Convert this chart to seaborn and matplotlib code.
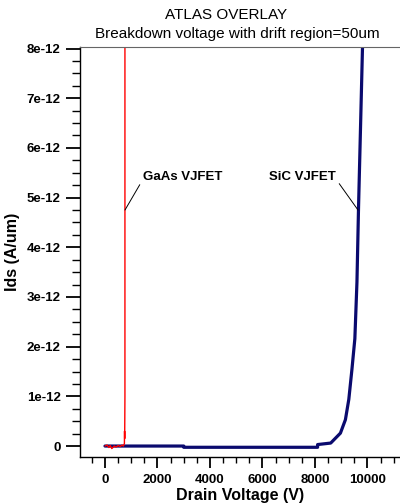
import numpy as np
import matplotlib
matplotlib.use("Agg")
import matplotlib.pyplot as plt
import seaborn as sns
from matplotlib.ticker import MultipleLocator, FixedLocator, FixedFormatter

# drain voltage (V) / drain current (A/um)
sic_v = [0, 700, 3000, 3000, 8100, 8100, 8600, 8970, 9160, 9290, 9410, 9520, 9600, 9660, 9740, 9810, 9860]
sic_i = [0.0, 0.0, 0.0, -0.025, -0.025, 0.03, 0.06, 0.26, 0.53, 0.94, 1.55, 2.16, 3.3, 4.8, 6.5, 8.0, 9.0]

gaas_v = [0, 80, 150, 200, 260, 300, 350, 420, 500, 580, 650, 700, 740, 745, 750, 755, 760, 760]
gaas_i = [0.0, 0.02, -0.03, 0.01, -0.05, -0.03, 0.0, -0.02, 0.01, -0.01, 0.02, 0.0, 0.05, 0.3, 0.15, 0.55, 1.0, 9.0]

ytick_vals = [0, 1, 2, 3, 4, 5, 6, 7, 8]
ytick_labels = ["0", "1e-12", "2e-12", "3e-12", "4e-12", "5e-12", "6e-12", "7e-12", "8e-12"]
xtick_vals = [0, 2000, 4000, 6000, 8000, 10000]

scale = 1e-12
sic_i = [v * scale for v in sic_i]
gaas_i = [v * scale for v in gaas_i]

sns.set_style("ticks", {"axes.edgecolor": "black", "xtick.color": "black",
                        "ytick.color": "black", "text.color": "black",
                        "axes.labelcolor": "black"})
plt.rcParams["font.family"] = ["Liberation Sans", "DejaVu Sans"]

fig = plt.figure(figsize=(4, 5.04), dpi=100)
ax = fig.add_axes([0.2, 0.0933, 0.8, 0.8134])

sns.lineplot(x=sic_v, y=sic_i, ax=ax, sort=False, estimator=None,
             color="#0a0a6e", linewidth=2.3)
sns.lineplot(x=gaas_v, y=gaas_i, ax=ax, sort=False, estimator=None,
             color="#ff0000", linewidth=1.0)

ax.set_xlim(-952, 11240)
ax.set_ylim(-0.22e-12, 8.03e-12)

ax.xaxis.set_major_locator(FixedLocator(xtick_vals))
ax.xaxis.set_minor_locator(MultipleLocator(500))
ax.yaxis.set_major_locator(FixedLocator([v * scale for v in ytick_vals]))
ax.yaxis.set_major_formatter(FixedFormatter(ytick_labels))
ax.yaxis.set_minor_locator(MultipleLocator(0.25e-12))

ax.tick_params(axis="both", which="major", length=8, width=1.3, labelsize=9.5, pad=4,
               color="black", labelcolor="black")
ax.tick_params(axis="both", which="minor", length=4, width=1.0, color="black")
ax.tick_params(axis="y", which="major", length=10)
ax.tick_params(axis="y", which="minor", length=6)
for lbl in ax.get_xticklabels() + ax.get_yticklabels():
    lbl.set_fontweight("bold")

ax.spines["right"].set_visible(False)
ax.spines["top"].set_color("#666666")
ax.spines["left"].set_linewidth(1.0)
ax.spines["bottom"].set_linewidth(1.0)

ax.set_xlabel("Drain Voltage (V)", fontsize=11.5, fontweight="bold", labelpad=2, color="black")
ax.set_ylabel("Ids (A/um)", fontsize=11.5, fontweight="bold", labelpad=5, color="black")

# labels for the two curves
ax.annotate("GaAs VJFET", xy=(762, 4.75e-12), xytext=(1450, 5.3e-12),
            fontsize=9.5, fontweight="bold", ha="left", va="bottom", color="black",
            arrowprops=dict(arrowstyle="-", color="black", lw=0.7,
                            relpos=(0, 0.3), shrinkA=0, shrinkB=0))
ax.annotate("SiC VJFET", xy=(9640, 4.75e-12), xytext=(8800, 5.3e-12),
            fontsize=9.5, fontweight="bold", ha="right", va="bottom", color="black",
            arrowprops=dict(arrowstyle="-", color="black", lw=0.7,
                            relpos=(1, 0.3), shrinkA=0, shrinkB=0))

fig.text(226 / 400, 1 - 15 / 504, "ATLAS OVERLAY", ha="center", va="center",
         fontsize=11, color="black")
fig.text(237 / 400, 1 - 34 / 504, "Breakdown voltage with drift region=50um",
         ha="center", va="center", fontsize=11, color="black")

fig.savefig("out.png", dpi=100)
